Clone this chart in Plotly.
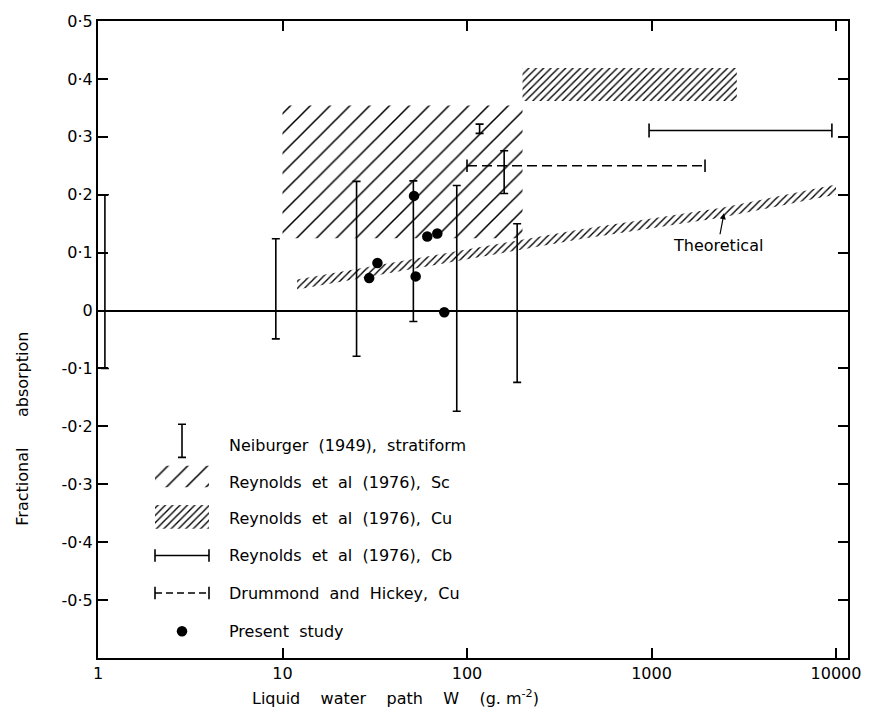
import plotly.graph_objects as go
import numpy as np

# ---------------- data ----------------
# Neiburger (1949) stratiform: ranges of fractional absorption
neib_w = [1.09, 9.2, 25.2, 51.2, 88.0, 117.0, 159.0, 187.0]
neib_lo = [-0.10, -0.049, -0.079, -0.019, -0.174, 0.306, 0.202, -0.124]
neib_hi = [0.20, 0.124, 0.223, 0.224, 0.216, 0.322, 0.276, 0.150]

# Reynolds et al (1976) Sc box and Cu box
sc_w = [10, 200]
sc_f = [0.125, 0.354]
cu_w = [200, 2900]
cu_f = [0.362, 0.419]

# Reynolds et al (1976) Cb range
cb_w = [970, 9500]
cb_f = 0.311

# Drummond and Hickey, Cu range
dh_w = [100, 1950]
dh_f = 0.25

# Present study
pres_w = [29.5, 32.7, 51.6, 52.7, 60.9, 69.0, 75.3]
pres_f = [0.056, 0.082, 0.198, 0.059, 0.128, 0.133, -0.003]

# Theoretical band (centre line)
theo_w = [12, 400, 2400, 10000]
theo_f = [0.045, 0.131, 0.169, 0.209]
theo_half = 0.0085

# ticks
x_ticks = [1, 10, 100, 1000, 10000]
x_ticktext = ["1", "10", "100", "1000", "10000"]
y_ticks = [0.5, 0.4, 0.3, 0.2, 0.1, 0, -0.1, -0.2, -0.3, -0.4, -0.5]
y_ticktext = ["0·5", "0·4", "0·3", "0·2", "0·1", "0", "-0·1", "-0·2", "-0·3", "-0·4", "-0·5"]

legend_labels = ["Neiburger (1949), stratiform", "Reynolds et al (1976), Sc",
                 "Reynolds et al (1976), Cu", "Reynolds et al (1976), Cb",
                 "Drummond and Hickey, Cu", "Present study"]

FONT = "DejaVu Sans"
BLK = "black"
NONE = "rgba(0,0,0,0)"

fig = go.Figure()


def rect(x, y):
    return [x[0], x[1], x[1], x[0], x[0]], [y[0], y[0], y[1], y[1], y[0]]


def hatch(size, solidity):
    return dict(shape="/", size=size, solidity=solidity, fgcolor=BLK,
                bgcolor=NONE, fillmode="replace")


# Sc box
rx, ry = rect(sc_w, sc_f)
fig.add_trace(go.Scatter(x=rx, y=ry, mode="lines", line=dict(width=0),
                         fill="toself", fillcolor=NONE, fillpattern=hatch(14, 0.11),
                         hoverinfo="skip", showlegend=False))
# Cu box
rx, ry = rect(cu_w, cu_f)
fig.add_trace(go.Scatter(x=rx, y=ry, mode="lines", line=dict(width=0),
                         fill="toself", fillcolor=NONE, fillpattern=hatch(5.2, 0.26),
                         hoverinfo="skip", showlegend=False))
# Theoretical band
tw = np.array(theo_w, dtype=float)
tf = np.array(theo_f, dtype=float)
bx = list(tw) + list(tw[::-1]) + [tw[0]]
by = list(tf + theo_half) + list((tf - theo_half)[::-1]) + [tf[0] + theo_half]
fig.add_trace(go.Scatter(x=bx, y=by, mode="lines", line=dict(width=0),
                         fill="toself", fillcolor=NONE, fillpattern=hatch(5.0, 0.27),
                         hoverinfo="skip", showlegend=False))

# Neiburger bars
lo = np.array(neib_lo)
hi = np.array(neib_hi)
fig.add_trace(go.Scatter(x=neib_w, y=(lo + hi) / 2, mode="markers",
                         marker=dict(size=2, color=NONE),
                         error_y=dict(type="data", array=(hi - lo) / 2, symmetric=True,
                                      color=BLK, thickness=1.6, width=4),
                         hoverinfo="skip", showlegend=False))

# Cb range
fig.add_trace(go.Scatter(x=cb_w, y=[cb_f] * len(cb_w), mode="lines+markers",
                         line=dict(color=BLK, width=1.5),
                         marker=dict(symbol="line-ns-open", size=10, color=BLK,
                                     line=dict(width=1.6, color=BLK)),
                         hoverinfo="skip", showlegend=False))
# Drummond and Hickey
fig.add_trace(go.Scatter(x=dh_w, y=[dh_f] * len(dh_w), mode="lines+markers",
                         line=dict(color=BLK, width=1.6, dash="10px,5px"),
                         marker=dict(symbol="line-ns-open", size=9, color=BLK,
                                     line=dict(width=1.6, color=BLK)),
                         hoverinfo="skip", showlegend=False))
# Present study
fig.add_trace(go.Scatter(x=pres_w, y=pres_f, mode="markers",
                         marker=dict(symbol="circle", size=10.5, color=BLK),
                         hoverinfo="skip", showlegend=False))

# ---------------- legend drawn on an overlay (paper-like) axis ----------------
gx0, gx1, gxc = 0.076, 0.148, 0.112   # glyph column
tx = 0.172                              # text column
row_y = [0.333, 0.276, 0.219, 0.161, 0.102, 0.042]
L = dict(xaxis="x2", yaxis="y2", hoverinfo="skip", showlegend=False)

# Neiburger glyph
fig.add_trace(go.Scatter(x=[gxc], y=[0.341], mode="markers", marker=dict(size=2, color=NONE),
                         error_y=dict(type="data", array=[0.026], color=BLK, thickness=1.6, width=4), **L))
# Sc swatch
rx, ry = rect([gx0, gx1], [0.268, 0.302])
fig.add_trace(go.Scatter(x=rx, y=ry, mode="lines", line=dict(width=0), fill="toself",
                         fillcolor=NONE, fillpattern=hatch(14, 0.11), **L))
# Cu swatch
rx, ry = rect([gx0, gx1], [0.203, 0.240])
fig.add_trace(go.Scatter(x=rx, y=ry, mode="lines", line=dict(width=0), fill="toself",
                         fillcolor=NONE, fillpattern=hatch(5.2, 0.26), **L))
# Cb glyph
fig.add_trace(go.Scatter(x=[gx0, gx1], y=[row_y[3]] * 2, mode="lines+markers",
                         line=dict(color=BLK, width=1.5),
                         marker=dict(symbol="line-ns-open", size=9, line=dict(width=1.6, color=BLK)), **L))
# Drummond glyph
fig.add_trace(go.Scatter(x=[gx0, gx1], y=[row_y[4]] * 2, mode="lines+markers",
                         line=dict(color=BLK, width=1.5, dash="7px,4px"),
                         marker=dict(symbol="line-ns-open", size=9, line=dict(width=1.6, color=BLK)), **L))
# dot glyph
fig.add_trace(go.Scatter(x=[gxc], y=[row_y[5]], mode="markers",
                         marker=dict(symbol="circle", size=10.5, color=BLK), **L))

annotations = []
for lab, yy in zip(legend_labels, row_y):
    annotations.append(dict(text=lab.replace(" ", "\u00a0\u00a0"), x=tx, y=yy, xref="paper", yref="paper",
                            xanchor="left", yanchor="middle", showarrow=False,
                            font=dict(family=FONT, size=16, color=BLK)))

# Theoretical label with arrow
annotations.append(dict(text="Theoretical", x=np.log10(2470), y=0.168, xref="x", yref="y",
                        showarrow=True, arrowhead=2, arrowsize=1, arrowwidth=1.2, arrowcolor=BLK,
                        ax=-6, ay=32, font=dict(family=FONT, size=16, color=BLK)))

# axis titles
annotations.append(dict(text="Fractional" + "\u00a0" * 6 + "absorption", textangle=-90,
                        x=-0.1, y=0.36, xref="paper", yref="paper", showarrow=False,
                        xanchor="center", yanchor="middle",
                        font=dict(family=FONT, size=16, color=BLK)))
sp = "\u00a0" * 4
annotations.append(dict(text="Liquid" + sp + "water" + sp + "path" + sp + "W" + sp + "(g.\u00a0m<sup>-2</sup>)",
                        x=(395 - 98) / 750, y=(658 - 698) / 645, xref="paper", yref="paper",
                        showarrow=False, xanchor="center", yanchor="middle",
                        font=dict(family=FONT, size=16, color=BLK)))

fig.update_layout(
    width=873, height=718,
    margin=dict(l=98, r=25, t=13, b=60),
    paper_bgcolor="white", plot_bgcolor="white",
    showlegend=False,
    annotations=annotations,
    xaxis=dict(type="log", range=[0, 4.065], tickvals=x_ticks, ticktext=x_ticktext,
               ticks="inside", ticklen=10, tickwidth=1.6, tickcolor=BLK,
               showline=True, linecolor=BLK, linewidth=2, mirror="ticks",
               showgrid=False, zeroline=False,
               tickfont=dict(family=FONT, size=16, color=BLK)),
    yaxis=dict(range=[-0.6, 0.5], tickvals=y_ticks, ticktext=y_ticktext,
               ticks="inside", ticklen=10, tickwidth=1.6, tickcolor=BLK,
               showline=True, linecolor=BLK, linewidth=2, mirror="ticks",
               showgrid=False, zeroline=True, zerolinecolor=BLK, zerolinewidth=2,
               tickfont=dict(family=FONT, size=16, color=BLK)),
    xaxis2=dict(overlaying="x", range=[0, 1], visible=False, anchor="y2"),
    yaxis2=dict(overlaying="y", range=[0, 1], visible=False, anchor="x2"),
)

fig.write_html("out.html", config={"displayModeBar": False},
               post_script="document.body.style.margin='0px';document.body.style.overflow='hidden';")
